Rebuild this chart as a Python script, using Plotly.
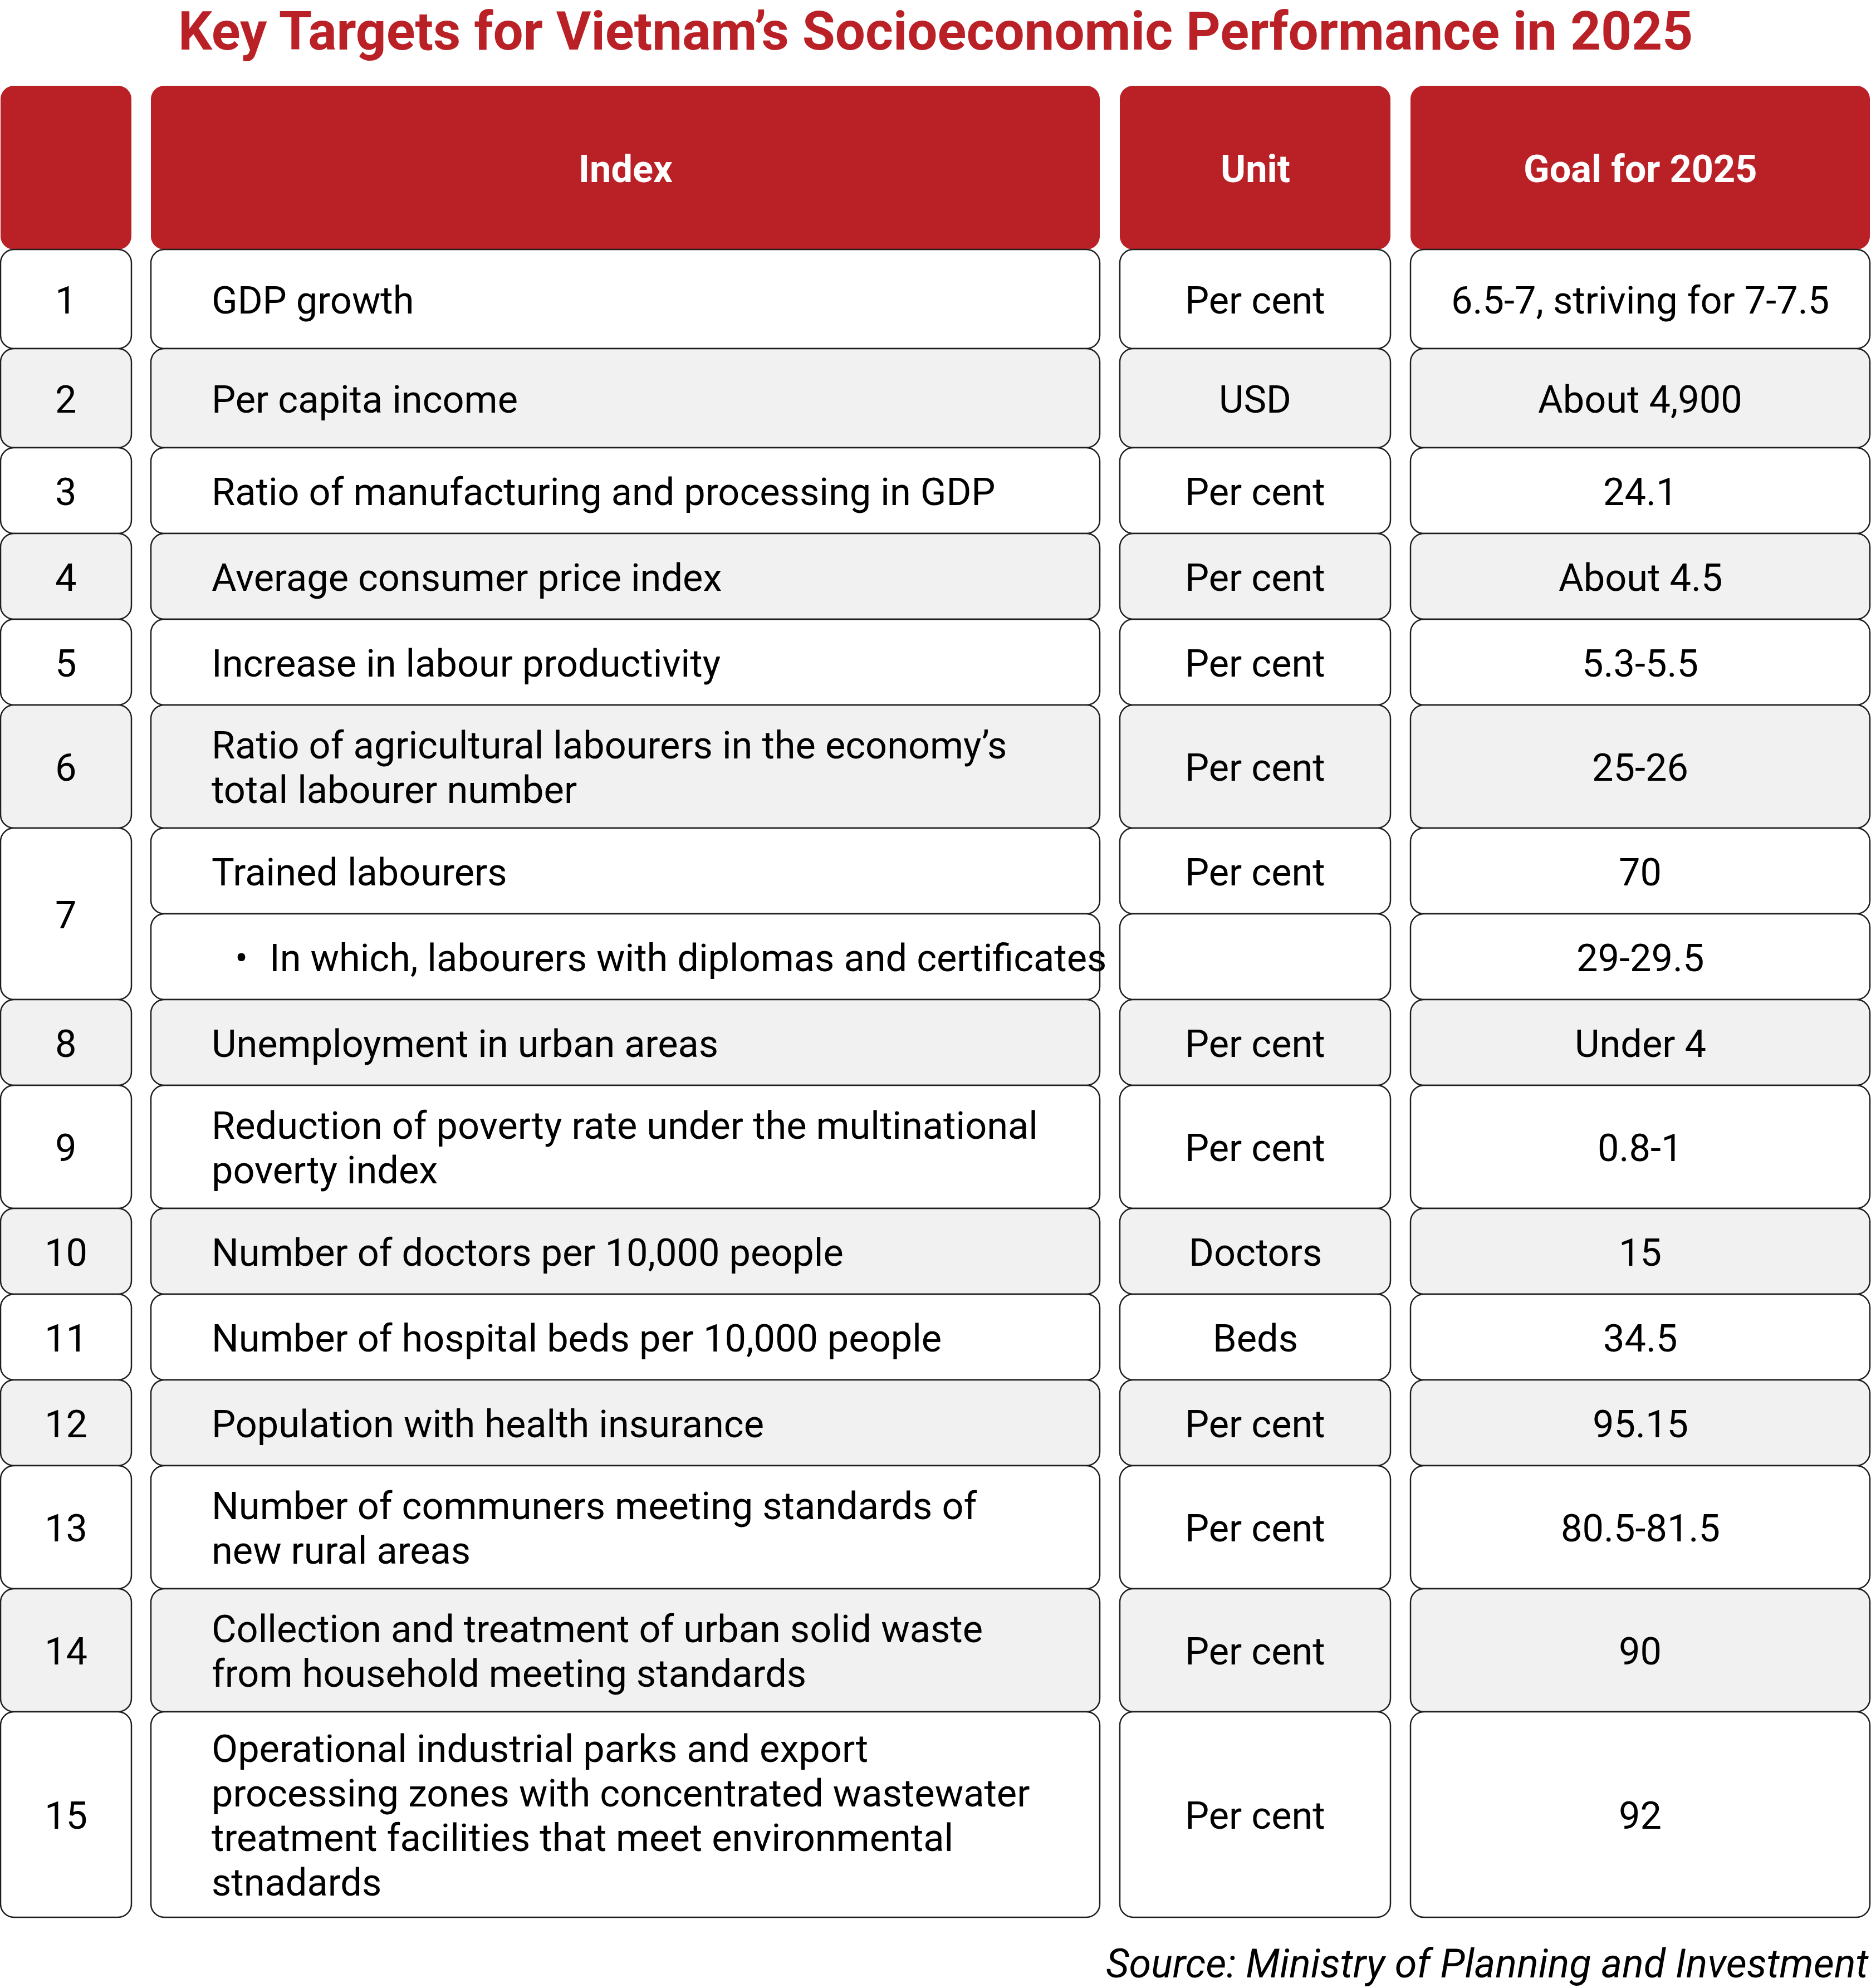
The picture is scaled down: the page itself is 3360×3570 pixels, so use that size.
import plotly.graph_objects as go

# ---------------- data ----------------
title = "Key Targets for Vietnam’s Socioeconomic Performance in 2025"
headers = ["", "Index", "Unit", "Goal for 2025"]
row_numbers = ["1", "2", "3", "4", "5", "6", "7", "", "8", "9", "10", "11", "12", "13", "14", "15"]
index_texts = [
    ["GDP growth"],
    ["Per capita income"],
    ["Ratio of manufacturing and processing in GDP"],
    ["Average consumer price index"],
    ["Increase in labour productivity"],
    ["Ratio of agricultural labourers in the economy’s", "total labourer number"],
    ["Trained labourers"],
    ["In which, labourers with diplomas and certificates"],
    ["Unemployment in urban areas"],
    ["Reduction of poverty rate under the multinational", "poverty index"],
    ["Number of doctors per 10,000 people"],
    ["Number of hospital beds per 10,000 people"],
    ["Population with health insurance"],
    ["Number of communers meeting standards of", "new rural areas"],
    ["Collection and treatment of urban solid waste", "from household meeting standards"],
    ["Operational industrial parks and export", "processing zones with concentrated wastewater",
     "treatment facilities that meet environmental", "stnadards"],
]
bullet_rows = [False, False, False, False, False, False, False, True,
               False, False, False, False, False, False, False, False]
units = ["Per cent", "USD", "Per cent", "Per cent", "Per cent", "Per cent", "Per cent", "",
         "Per cent", "Per cent", "Doctors", "Beds", "Per cent", "Per cent", "Per cent", "Per cent"]
goals = ["6.5-7, striving for 7-7.5", "About 4,900", "24.1", "About 4.5", "5.3-5.5", "25-26",
         "70", "29-29.5", "Under 4", "0.8-1", "15", "34.5", "95.15", "80.5-81.5", "90", "92"]
group_of_row = [1, 2, 3, 4, 5, 6, 7, 7, 8, 9, 10, 11, 12, 13, 14, 15]
source = "Source: Ministry of Planning and Investment"

# ---------------- layout / style ----------------
W, H = 3360, 3570
RED = "#BA2126"
GRAY = "#F1F1F1"
BORDER = "#1E1E1E"
FONT = "Roboto"
col_x = [(1, 236), (271, 1975), (2011, 2497), (2533, 3358)]
header_y = (154, 448)
row_heights = [178, 178, 154, 154, 154, 221, 154, 154, 154, 221, 154, 154, 154, 221, 221, 369]
radius = 24
line_gap = 80
text_left = 378
bullet_x = 420
bullet_text_x = 482
body_size = 68.5


def rrect(x0, y0, x1, y1, r=radius):
    k = 0.5523 * r
    return (f"M{x0 + r},{y0} H{x1 - r} C{x1 - r + k},{y0} {x1},{y0 + r - k} {x1},{y0 + r} "
            f"V{y1 - r} C{x1},{y1 - r + k} {x1 - r + k},{y1} {x1 - r},{y1} "
            f"H{x0 + r} C{x0 + r - k},{y1} {x0},{y1 - r + k} {x0},{y1 - r} "
            f"V{y0 + r} C{x0},{y0 + r - k} {x0 + r - k},{y0} {x0 + r},{y0} Z")


shapes = []
annotations = []


def add_text(x, y, text, anchor="center", size=body_size, color="black", weight=400, style="normal"):
    annotations.append(dict(
        x=x, y=y, xref="x", yref="y", text=text, showarrow=False,
        xanchor=anchor, yanchor="middle",
        font=dict(family=FONT, size=size, color=color, weight=weight, style=style),
    ))


# title
add_text(W / 2, 56, title, size=96, color=RED, weight=700)

# header
for (x0, x1), h in zip(col_x, headers):
    shapes.append(dict(type="path", path=rrect(x0, header_y[0], x1, header_y[1]),
                       xref="x", yref="y", fillcolor=RED, line=dict(width=0), layer="above"))
    if h:
        add_text((x0 + x1) / 2, (header_y[0] + header_y[1]) / 2 + 2, h, size=body_size,
                 color="white", weight=700)

# body rows
tops = []
y = header_y[1]
for h in row_heights:
    tops.append(y)
    y += h

n = len(row_heights)
for i in range(n):
    y0 = tops[i]
    y1 = y0 + row_heights[i]
    fill = GRAY if group_of_row[i] % 2 == 0 else "white"
    cy = (y0 + y1) / 2 + 2
    # number cell (merged for the same group)
    if row_numbers[i]:
        span_end = i
        while span_end + 1 < n and group_of_row[span_end + 1] == group_of_row[i] and not row_numbers[span_end + 1]:
            span_end += 1
        ny1 = tops[span_end] + row_heights[span_end]
        x0, x1 = col_x[0]
        shapes.append(dict(type="path", path=rrect(x0, y0, x1, ny1), xref="x", yref="y",
                           fillcolor=fill, line=dict(color=BORDER, width=2.5), layer="above"))
        add_text((x0 + x1) / 2, (y0 + ny1) / 2 + 2, row_numbers[i])
    for c in (1, 2, 3):
        x0, x1 = col_x[c]
        shapes.append(dict(type="path", path=rrect(x0, y0, x1, y1), xref="x", yref="y",
                           fillcolor=fill, line=dict(color=BORDER, width=2.5), layer="above"))
    # index text
    lines = index_texts[i]
    nl = len(lines)
    for j, ln in enumerate(lines):
        ly = cy + (j - (nl - 1) / 2) * line_gap
        if bullet_rows[i]:
            add_text(bullet_x, ly, "•", anchor="left")
            add_text(bullet_text_x, ly, ln, anchor="left")
        else:
            add_text(text_left, ly, ln, anchor="left")
    if units[i]:
        add_text(sum(col_x[2]) / 2, cy, units[i])
    add_text(sum(col_x[3]) / 2, cy, goals[i])

# source
add_text(3358, 3526, source, anchor="right", size=72, style="italic")

fig = go.Figure()
fig.update_layout(
    width=W, height=H,
    margin=dict(l=0, r=0, t=0, b=0),
    paper_bgcolor="white", plot_bgcolor="white",
    xaxis=dict(range=[0, W], visible=False, fixedrange=True),
    yaxis=dict(range=[H, 0], visible=False, fixedrange=True),
    shapes=shapes, annotations=annotations, showlegend=False,
)
fig.write_html("out.html", config={"displayModeBar": False},
               post_script="document.body.style.margin='0';document.body.style.overflow='hidden';")
